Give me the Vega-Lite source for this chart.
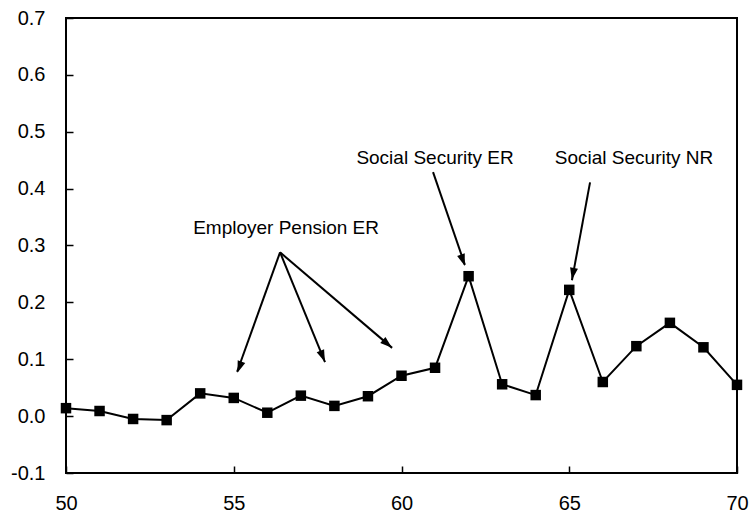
{
  "$schema": "https://vega.github.io/schema/vega-lite/v6.json",
  "width": 671,
  "height": 455,
  "autosize": {"type": "none"},
  "padding": {"left": 66, "top": 18, "right": 13, "bottom": 40},
  "background": "white",
  "config": {
    "font": "Liberation Sans",
    "view": {"stroke": "black", "strokeWidth": 2},
    "axis": {"grid": false, "domain": false, "ticks": true, "zindex": 1, "tickColor": "black", "tickWidth": 1.5, "tickOpacity": 1, "labelColor": "black", "labelFont": "Liberation Sans", "labelFontSize": 20, "labelFlush": false, "title": null}
  },
  "datasets": {
    "series": [
      {"age": 50, "value": 0.014},
      {"age": 51, "value": 0.009},
      {"age": 52, "value": -0.005},
      {"age": 53, "value": -0.007},
      {"age": 54, "value": 0.040},
      {"age": 55, "value": 0.032},
      {"age": 56, "value": 0.006},
      {"age": 57, "value": 0.036},
      {"age": 58, "value": 0.018},
      {"age": 59, "value": 0.035},
      {"age": 60, "value": 0.071},
      {"age": 61, "value": 0.085},
      {"age": 62, "value": 0.246},
      {"age": 63, "value": 0.056},
      {"age": 64, "value": 0.037},
      {"age": 65, "value": 0.222},
      {"age": 66, "value": 0.060},
      {"age": 67, "value": 0.123},
      {"age": 68, "value": 0.164},
      {"age": 69, "value": 0.121},
      {"age": 70, "value": 0.055}
    ],
    "arrows": [
      {"x": 56.38, "y": 0.288, "x2": 55.10, "y2": 0.078, "hx": 55.17, "hy": 0.086, "angle": 199.7},
      {"x": 56.38, "y": 0.288, "x2": 57.72, "y2": 0.095, "hx": 57.65, "hy": 0.105, "angle": 157.8},
      {"x": 56.38, "y": 0.288, "x2": 59.72, "y2": 0.120, "hx": 59.58, "hy": 0.127, "angle": 130.6},
      {"x": 60.94, "y": 0.429, "x2": 61.89, "y2": 0.266, "hx": 61.83, "hy": 0.274, "angle": 161.0},
      {"x": 65.62, "y": 0.411, "x2": 65.08, "y2": 0.239, "hx": 65.11, "hy": 0.250, "angle": 190.4}
    ],
    "labels": [
      {"x": 56.56, "y": 0.320, "text": "Employer Pension ER"},
      {"x": 61.0, "y": 0.443, "text": "Social Security ER"},
      {"x": 66.93, "y": 0.443, "text": "Social Security NR"}
    ]
  },
  "layer": [
    {
      "data": {"name": "series"},
      "mark": {"type": "line", "color": "black", "strokeWidth": 2, "point": {"shape": "square", "size": 110, "filled": true, "color": "black", "opacity": 1}},
      "encoding": {
        "x": {"field": "age", "type": "quantitative", "scale": {"domain": [50, 70], "nice": false, "zero": false},
              "axis": {"values": [50, 55, 60, 65, 70], "tickSize": -7, "labelPadding": 43, "labelBaseline": "alphabetic"}},
        "y": {"field": "value", "type": "quantitative", "scale": {"domain": [-0.1, 0.7], "nice": false, "zero": false},
              "axis": {"values": [-0.1, 0, 0.1, 0.2, 0.3, 0.4, 0.5, 0.6, 0.7], "tickSize": -7, "labelPadding": 28,
                       "labelExpr": "datum.value < -0.001 ? '-' + format(-datum.value, '.1f') : format(datum.value, '.1f')"}}
      }
    },
    {
      "data": {"name": "arrows"},
      "mark": {"type": "rule", "color": "black", "strokeWidth": 2},
      "encoding": {
        "x": {"field": "x", "type": "quantitative"},
        "y": {"field": "y", "type": "quantitative"},
        "x2": {"field": "x2"},
        "y2": {"field": "y2"}
      }
    },
    {
      "data": {"name": "arrows"},
      "mark": {"type": "point", "shape": "M0,-1L0.667,1L-0.667,1Z", "filled": true, "color": "black", "opacity": 1, "size": 144},
      "encoding": {
        "x": {"field": "hx", "type": "quantitative"},
        "y": {"field": "hy", "type": "quantitative"},
        "angle": {"field": "angle", "type": "quantitative", "scale": null}
      }
    },
    {
      "data": {"name": "labels"},
      "mark": {"type": "text", "font": "Liberation Sans", "fontSize": 19, "color": "black", "align": "center", "baseline": "alphabetic"},
      "encoding": {
        "x": {"field": "x", "type": "quantitative"},
        "y": {"field": "y", "type": "quantitative"},
        "text": {"field": "text"}
      }
    }
  ]
}
